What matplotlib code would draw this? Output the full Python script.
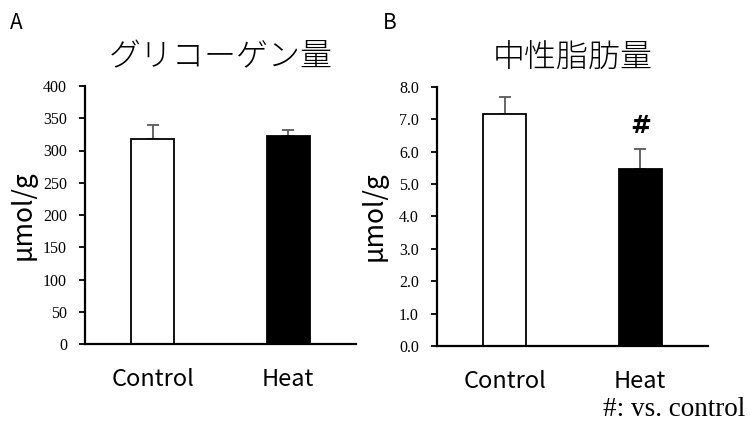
import matplotlib
matplotlib.use("Agg")
import matplotlib.pyplot as plt

categories = ["Control", "Heat"]
glycogen = [318, 322]
glycogen_err = [21, 10]
fat = [7.17, 5.46]
fat_err = [0.53, 0.62]
colors = ["white", "black"]

jp = ["Noto Sans CJK JP", "DejaVu Sans"]
serif = "Liberation Serif"

fig = plt.figure(figsize=(7.5, 4.21), dpi=100)
axA = fig.add_axes([85/750, 1-344/421, 271/750, 258/421])
axB = fig.add_axes([437/750, 1-346/421, 271/750, 259/421])

def style(ax, vals, errs, ymax, step, fmt, title, ylab_x):
    x = list(range(len(categories)))
    ax.bar(x, vals, width=0.32, color=colors, edgecolor="black", linewidth=1.3, zorder=2)
    ax.errorbar(x, vals, yerr=[[0]*len(errs), errs], fmt="none", ecolor="#595959",
                elinewidth=1.3, capsize=4, capthick=1.3, zorder=1)
    ax.set_xlim(-0.5, 1.5)
    ax.set_ylim(0, ymax)
    ticks = [i*step for i in range(int(round(ymax/step))+1)]
    ax.set_yticks(ticks)
    ax.set_yticklabels([fmt.format(t) for t in ticks], fontfamily=serif, fontsize=11.5)
    ax.set_xticks(x)
    ax.set_xticklabels(categories, fontfamily=jp, fontsize=17)
    ax.tick_params(axis="x", length=0, pad=17)
    ax.tick_params(axis="y", direction="out", length=4, width=1.3, pad=9)
    for s in ["top", "right"]:
        ax.spines[s].set_visible(False)
    for s in ["left", "bottom"]:
        ax.spines[s].set_linewidth(1.6)
    ax.set_ylabel("μmol/g", fontfamily=jp, fontsize=19)
    ax.yaxis.set_label_coords(ylab_x, 0.5)
    ax.set_title(title, fontfamily=jp, fontsize=23, fontweight="light", pad=14)

style(axA, glycogen, glycogen_err, 400, 50, "{:.0f}", "グリコーゲン量", -0.177)
style(axB, fat, fat_err, 8.0, 1.0, "{:.1f}", "中性脂肪量", -0.181)

axB.text(1, fat[1] + fat_err[1] + 0.35, "#", ha="center", va="bottom",
         fontsize=18, fontweight="bold", fontfamily="DejaVu Sans")

fig.text(10/750, 1-23/421, "A", fontsize=15, fontfamily=jp, va="center")
fig.text(383/750, 1-23/421, "B", fontsize=15, fontfamily=jp, va="center")
fig.text(603/750, 1-409/421, "#: vs. control", fontsize=19.5, fontfamily=serif, va="center")

fig.savefig("out.png", dpi=100)
